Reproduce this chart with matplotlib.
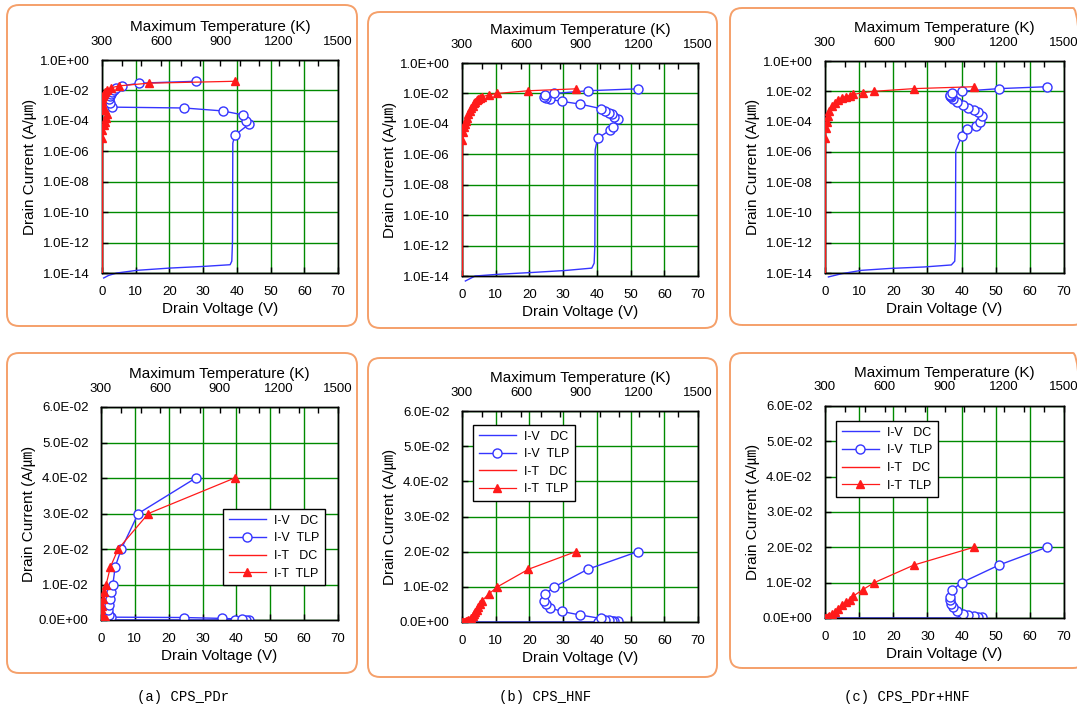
import matplotlib
matplotlib.use('Agg')
import matplotlib.pyplot as plt
from matplotlib.patches import FancyBboxPatch
from matplotlib.ticker import MultipleLocator, NullLocator, FixedLocator, FixedFormatter

plt.rcParams['font.family'] = ['Liberation Sans', 'Noto Sans CJK KR', 'DejaVu Sans']

# ---------------- data ----------------
v_ticks = [0, 10, 20, 30, 40, 50, 60, 70]
t_ticks = [300, 600, 900, 1200, 1500]
log_ticks = [1e0, 1e-2, 1e-4, 1e-6, 1e-8, 1e-10, 1e-12, 1e-14]
log_labels = ['1.0E+00', '1.0E-02', '1.0E-04', '1.0E-06', '1.0E-08', '1.0E-10', '1.0E-12', '1.0E-14']
lin_ticks = [0.0, 0.01, 0.02, 0.03, 0.04, 0.05, 0.06]
lin_labels = ['0.0E+00', '1.0E-02', '2.0E-02', '3.0E-02', '4.0E-02', '5.0E-02', '6.0E-02']
legend_labels = ['I-V   DC', 'I-V  TLP', 'I-T   DC', 'I-T  TLP']
captions = ['(a) CPS_PDr', '(b) CPS_HNF', '(c) CPS_PDr+HNF']

# (a) CPS_PDr
a_dc_v = [0.5, 2.0, 4.4, 10.4, 20.0, 30.0, 38.0, 38.5, 38.7, 38.8, 39.4]
a_dc_i = [4.7e-15, 7e-15, 1e-14, 1.5e-14, 2.1e-14, 2.7e-14, 3.5e-14, 6e-14, 1e-12, 3.4e-6, 1.2e-5]
a_tlp_v = [39.5, 43.6, 42.7, 41.7, 35.8, 24.4, 2.9, 2.3, 2.1, 2.3, 2.6, 3.1, 3.5, 4.2, 6.0, 11.0, 28.0]
a_tlp_i = [1.2e-5, 6e-5, 1e-4, 2.5e-4, 4.5e-4, 7e-4, 8e-4, 1.5e-3, 2.7e-3, 4.2e-3, 6e-3, 8e-3, 1e-2, 1.5e-2, 2e-2, 3e-2, 4e-2]
a_itdc_t = [300, 300, 300]
a_itdc_i = [1e-14, 1e-9, 7e-6]
a_ittlp_t = [300, 302, 309, 314, 319, 324, 315, 307, 302, 300, 302, 305, 310, 317, 326, 348, 387, 540, 977]
a_ittlp_i = [7e-6, 2.5e-5, 5e-5, 9e-5, 1.6e-4, 3e-4, 5e-4, 8e-4, 1.2e-3, 2e-3, 3e-3, 4e-3, 6e-3, 8e-3, 1e-2, 1.5e-2, 2e-2, 3e-2, 4e-2]

# (b) CPS_HNF
b_dc_v = [1.0, 3.9, 10.8, 20.7, 30.6, 38.5, 39.2, 39.4, 39.5, 40.2]
b_dc_i = [4.7e-15, 1e-14, 1.3e-14, 1.7e-14, 2.3e-14, 3.3e-14, 7e-14, 1e-12, 2e-6, 1.1e-5]
b_tlp_v = [40.2, 44.0, 44.7, 46.4, 45.2, 44.4, 43.5, 42.4, 41.2, 35.0, 29.6, 26.2, 24.9, 24.2, 24.7, 27.4, 37.3, 52.1]
b_tlp_i = [1.1e-5, 4e-5, 6.5e-5, 2e-4, 3e-4, 4.2e-4, 5.5e-4, 7e-4, 1e-3, 2e-3, 3e-3, 4e-3, 5e-3, 6e-3, 8e-3, 1e-2, 1.5e-2, 2e-2]
b_itdc_t = [300, 300, 300]
b_itdc_i = [1e-14, 1e-9, 9e-6]
b_ittlp_t = [300, 305, 310, 315, 321, 326, 333, 339, 346, 355, 362, 367, 374, 382, 393, 401, 437, 480, 638, 878]
b_ittlp_i = [9e-6, 3e-5, 6e-5, 1e-4, 1.6e-4, 2.5e-4, 4.5e-4, 7e-4, 1.1e-3, 1.6e-3, 2.2e-3, 2.8e-3, 3.5e-3, 4.2e-3, 5e-3, 6e-3, 8e-3, 1e-2, 1.5e-2, 2e-2]

# (c) CPS_PDr+HNF
c_dc_v = [1.0, 4.9, 10.7, 19.0, 29.0, 37.0, 38.0, 38.2, 38.3, 40.0]
c_dc_i = [5.5e-15, 9e-15, 1.5e-14, 2e-14, 2.5e-14, 3.4e-14, 6e-14, 1e-12, 1.2e-6, 1.1e-5]
c_tlp_v = [40.0, 41.5, 44.2, 45.4, 45.9, 44.9, 43.5, 42.0, 40.5, 38.6, 37.6, 36.9, 36.6, 36.7, 37.3, 40.0, 51.0, 64.9]
c_tlp_i = [1.1e-5, 3e-5, 5e-5, 1e-4, 2.3e-4, 4e-4, 6e-4, 8e-4, 1.2e-3, 2e-3, 3e-3, 4e-3, 5e-3, 6e-3, 8e-3, 1e-2, 1.5e-2, 2e-2]
c_itdc_t = [300, 300, 300]
c_itdc_i = [1e-14, 1e-9, 8e-6]
c_ittlp_t = [300, 305, 310, 315, 322, 333, 350, 367, 384, 405, 425, 442, 489, 547, 747, 1046]
c_ittlp_i = [8e-6, 4e-5, 1e-4, 2.5e-4, 5e-4, 1e-3, 1.7e-3, 2.6e-3, 3.6e-3, 4.5e-3, 5.2e-3, 6.2e-3, 8e-3, 1e-2, 1.5e-2, 2e-2]

panels = [
    (a_dc_v, a_dc_i, a_tlp_v, a_tlp_i, a_itdc_t, a_itdc_i, a_ittlp_t, a_ittlp_i),
    (b_dc_v, b_dc_i, b_tlp_v, b_tlp_i, b_itdc_t, b_itdc_i, b_ittlp_t, b_ittlp_i),
    (c_dc_v, c_dc_i, c_tlp_v, c_tlp_i, c_itdc_t, c_itdc_i, c_ittlp_t, c_ittlp_i),
]

# ---------------- layout (pixels) ----------------
W, H = 1077, 709
axes_top_px = [(102, 60, 338, 273), (462, 63, 698, 276), (825, 61, 1064, 273)]
axes_bot_px = [(101, 407, 338, 620), (462, 411, 698, 622), (825, 406, 1064, 618)]
boxes_top_px = [(7, 5, 357, 326), (368, 12, 717, 328), (730, 8, 1085, 325)]
boxes_bot_px = [(7, 353, 357, 673), (368, 358, 717, 677), (730, 353, 1085, 668)]
legend_anchor = [(0.515, 0.521), (0.047, 0.934), (0.046, 0.929)]
caption_x = [183, 545, 907]

BLUE = '#3535ff'
RED = '#ff1a1a'
GREEN = '#008a00'
ORANGE = '#f5a06a'

fig = plt.figure(figsize=(W / 100, H / 100), dpi=100)


def add_box(px):
    x0, y0, x1, y1 = px
    p = FancyBboxPatch((x0 / 100, (H - y1) / 100), (x1 - x0) / 100, (y1 - y0) / 100,
                       boxstyle='round,pad=0,rounding_size=0.12',
                       transform=fig.dpi_scale_trans, facecolor='none',
                       edgecolor=ORANGE, linewidth=1.4, zorder=0)
    fig.patches.append(p)


def make_axes(px):
    x0, y0, x1, y1 = px
    return fig.add_axes([x0 / W, 1 - y1 / H, (x1 - x0) / W, (y1 - y0) / H])


def draw(ax, data, log):
    dc_v, dc_i, tlp_v, tlp_i, itdc_t, itdc_i, ittlp_t, ittlp_i = data
    if log:
        ax.set_yscale('log')
        ax.set_ylim(1e-14, 1e0)
        ticks, labels = log_ticks, log_labels
    else:
        ax.set_ylim(0, 0.06)
        ticks, labels = lin_ticks, lin_labels
    ax.set_xlim(0, 70)
    ax.set_xticks(v_ticks)
    ax2 = ax.twiny()
    ax2.set_xlim(300, 1500)
    ax2.set_xticks(t_ticks)
    ax2.xaxis.set_minor_locator(MultipleLocator(100))
    h1, = ax.plot(dc_v, dc_i, color=BLUE, lw=1.0, clip_on=not log, zorder=3)
    h2, = ax.plot(tlp_v, tlp_i, color=BLUE, lw=1.0, marker='o', ms=6.5,
                  mfc='white', mec=BLUE, mew=1.0, zorder=3)
    h3, = ax2.plot(itdc_t, itdc_i, color=RED, lw=1.0, zorder=3)
    h4, = ax2.plot(ittlp_t, ittlp_i, color=RED, lw=0.9, marker='^', ms=5.5,
                   mfc=RED, mec=RED, zorder=3)
    # y ticks set after all plotting so that shared y axis keeps them
    ax.set_ylim(ticks[-1] if log else 0, ticks[0] if log else 0.06)
    ax.yaxis.set_major_locator(FixedLocator(ticks))
    ax.yaxis.set_major_formatter(FixedFormatter(labels))
    ax.yaxis.set_minor_locator(NullLocator())
    ax.grid(True, color=GREEN, linewidth=1.0)
    ax.tick_params(axis='both', which='major', direction='in', length=4, width=1,
                   labelsize=9.5, top=False, right=False)
    ax.tick_params(axis='x', pad=9)
    ax.tick_params(axis='y', pad=9)
    ax2.tick_params(axis='x', which='major', direction='in', length=4, width=1,
                    labelsize=9.5, pad=9)
    ax2.tick_params(axis='x', which='minor', direction='in', length=4, width=1)
    for sp in list(ax.spines.values()) + list(ax2.spines.values()):
        sp.set_color('black')
        sp.set_linewidth(1.0)
    ax.set_xlabel('Drain Voltage (V)', fontsize=11, labelpad=3)
    ax2.set_xlabel('Maximum Temperature (K)', fontsize=11, labelpad=3)
    ax.set_ylabel('Drain Current (A/㎛)', fontsize=11, labelpad=2)
    return ax2, [h1, h2, h3, h4]


for k in range(3):
    add_box(boxes_top_px[k])
    add_box(boxes_bot_px[k])
    ax_t = make_axes(axes_top_px[k])
    draw(ax_t, panels[k], True)
    ax_b = make_axes(axes_bot_px[k])
    ax2_b, handles = draw(ax_b, panels[k], False)
    leg = ax2_b.legend(handles, legend_labels, loc='upper left',
                       bbox_to_anchor=legend_anchor[k], borderaxespad=0,
                       fontsize=9, frameon=True, fancybox=False, framealpha=1,
                       edgecolor='black', handlelength=3.0, handletextpad=0.6,
                       borderpad=0.45, labelspacing=0.45)
    leg.get_frame().set_linewidth(1.0)
    leg.set_zorder(10)
    fig.text(caption_x[k] / W, 1 - 697 / H, captions[k], ha='center', va='center',
             family=['Liberation Mono', 'DejaVu Sans Mono'], fontsize=10)

fig.savefig('out.png', dpi=100)
